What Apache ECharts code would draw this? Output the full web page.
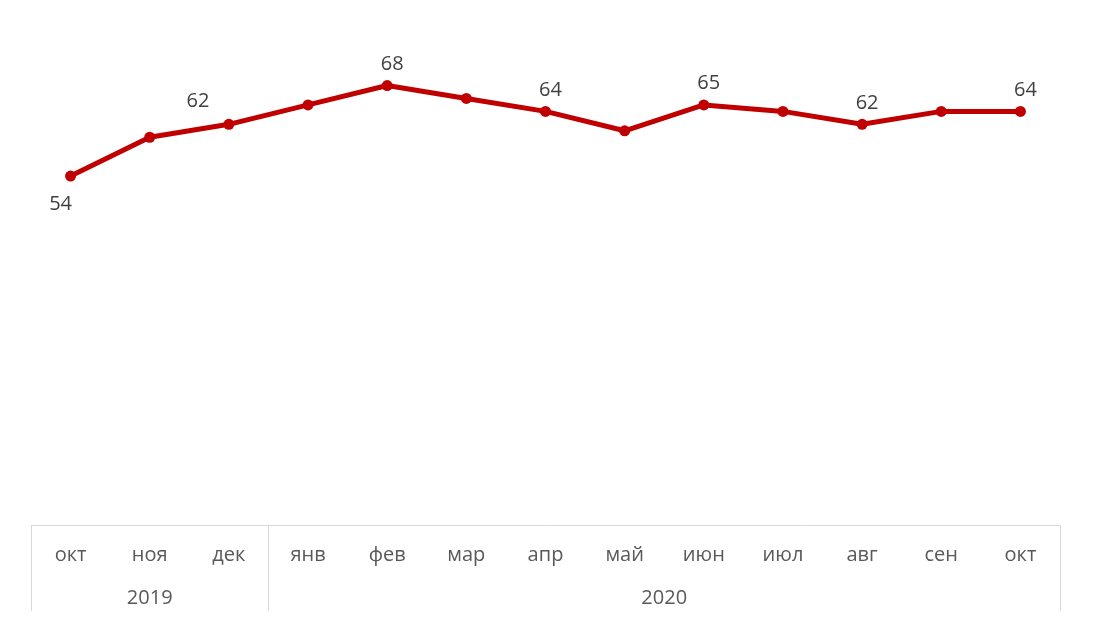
<!DOCTYPE html>
<html>
<head>
<meta charset="utf-8">
<script src="https://cdn.jsdelivr.net/npm/echarts@6/dist/echarts.min.js"></script>
<style>html,body{margin:0;padding:0;background:#fff}#c{width:1094px;height:629px}</style>
</head>
<body>
<div id="c"></div>
<script>
const months = ['окт','ноя','дек','янв','фев','мар','апр','май','июн','июл','авг','сен','окт'];
const values = [54, 60, 62, 65, 68, 66, 64, 61, 65, 64, 62, 64, 64];
const years = ['2019', '2020'];
const yearCenters = [1.5, 8];      // centre of each year span in category units
const yearBounds = [0, 3, 13];     // boundaries between year groups
const labeledIdx = [0, 2, 4, 6, 8, 10, 12];

const chart = echarts.init(document.getElementById('c'));
const font = '"Open Sans", "Noto Sans", sans-serif';
function labelFor(i) {
  if (!labeledIdx.includes(i)) return {show: false};
  if (i === 0) return {show: true, position: 'bottom', offset: [-10, 7]};
  if (i === 2) return {show: true, position: 'top', offset: [-31, -2]};
  return {show: true, position: 'top', offset: [5, 0]};
}
chart.setOption({
  animation: false,
  grid: {left: 31, right: 34, top: 8, bottom: 104},
  xAxis: [{
    type: 'category',
    data: months,
    boundaryGap: true,
    axisLine: {show: true, lineStyle: {color: '#d9d9d9', width: 1}},
    axisTick: {show: false},
    axisLabel: {color: '#595959', fontFamily: font, fontSize: 20, margin: 20, interval: 0}
  }, {
    type: 'value',
    min: 0, max: 13,
    position: 'bottom',
    axisLine: {show: false},
    splitLine: {show: false},
    axisTick: {show: true, customValues: yearBounds, length: 86, lineStyle: {color: '#d9d9d9', width: 1}},
    axisLabel: {
      show: true, customValues: yearCenters, color: '#595959', fontFamily: font, fontSize: 20, margin: 63,
      formatter: v => { const i = yearCenters.indexOf(v); return i >= 0 ? years[i] : ''; }
    }
  }],
  yAxis: {type: 'value', min: 0, max: 80, show: false, splitLine: {show: false}},
  series: [{
    type: 'line',
    data: values.map((v, i) => ({value: v, label: labelFor(i)})),
    lineStyle: {color: '#c00000', width: 5},
    itemStyle: {color: '#c00000'},
    symbol: 'circle',
    symbolSize: 11,
    label: {color: '#404040', fontFamily: font, fontSize: 20, distance: 6}
  }]
});
</script>
</body>
</html>
